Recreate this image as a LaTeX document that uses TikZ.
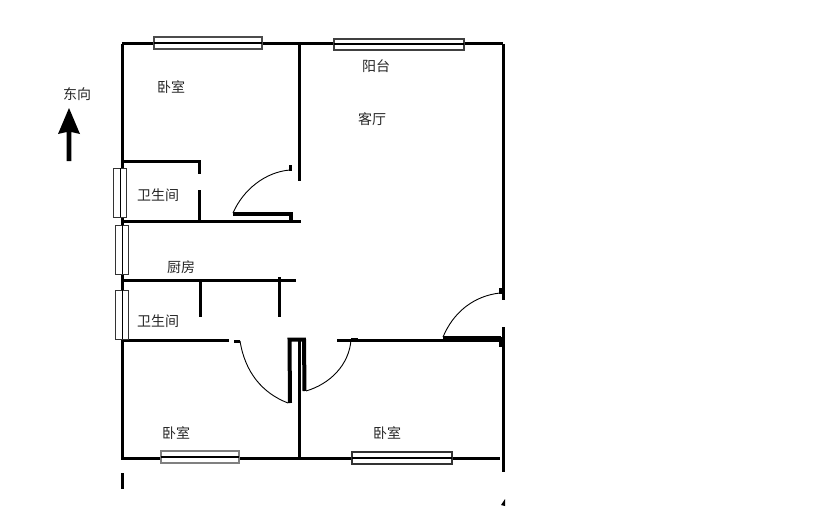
\documentclass[tikz,border=0pt]{standalone}
\usepackage{fontspec}
\setmainfont{Noto Sans CJK SC}
\tikzset{
  wall/.style={line width=3pt,black},
  leaf/.style={line width=4pt,black},
  swing/.style={line width=0.9pt,black},
  winframe/.style={draw=black!70,line width=1.3pt,fill=white},
  roomlabel/.style={font=\fontsize{14}{15}\selectfont,inner sep=0pt,black!85}
}
\begin{document}
\begin{tikzpicture}[line join=miter, x=1pt, y=-1pt]
  \useasboundingbox (0,0) rectangle (814,519);
  \draw[wall](122,44)--(503,44)(122,44)--(122,458)--(500,458)(122,473)--(122,489);
  \draw[wall](503,44)--(503,300)(503,327)--(503,472);
  \draw[wall](299.5,42)--(299.5,181)(122,221)--(301,221)(122,161)--(199,161)--(199,174)(199,190)--(199,221);
  \draw[wall](122,280)--(296,280)(200,280)--(200,317)(279,277)--(279,317);
  \draw[wall](122,340.5)--(229,340.5)(234,341)--(240,341)(337,340.5)--(503,340.5)(299.5,340)--(299.5,458);
  \draw[line width=3pt](351,339.5)--(358,339.5);
  % door leaves
  \draw[leaf](233,214)--(291,214)--(291,221);
  \draw[leaf](290,403)--(289.5,339.5)--(304,339.5)--(304.5,391);
  \draw[line width=6pt](443,339)--(501,339);
  \draw[line width=3pt](500.5,337)--(500.5,347)(500,288)--(500,294)(290,165)--(290,171);
  % door swings
  \draw[swing](233,213)..controls(243,190)and(265,172)..(290,170);
  \draw[swing](240,341)..controls(245,372)and(262,393)..(288,403);
  \draw[swing](306,391)..controls(330,384)and(349,365)..(351,340);
  \draw[swing](443,337)..controls(453,313)and(473,296)..(500,293);
  % windows
  \foreach \xa/\ya/\xb/\yb/\c in{154/37/262/49/70,334/39/464/50/75,161/451/239/463/50,352/452/452/464/80}
  {\draw[winframe,draw=black!\c](\xa,\ya)rectangle(\xb,\yb);
   \draw[line width=2pt]({\xa},{(\ya+\yb)/2})--({\xb},{(\ya+\yb)/2});}
  \foreach \xa/\ya/\xb/\yb/\xm in{113/168/126/217/120.5,115/225/128/274/122,115/290/128/339/122}
  {\draw[winframe,draw=black!80,line width=1pt](\xa,\ya)rectangle(\xb,\yb);
   \draw[line width=1pt](\xm,\ya)--(\xm,\yb);}
  % north arrow
  \fill(69,108)--(80,134)--(71.3,132)--(71.3,161)--(66.7,161)--(66.7,132)--(58,134)--cycle;
  \fill(501,505)--(505,499)--(505,506)--cycle;
  % labels
  \foreach \x/\y/\t/\n in{77/94/东向/east,171/87/卧室/bedA,376/66/阳台/balcony,372/119/客厅/living,158/195/卫生间/bathA,181/267/厨房/kitchen,158/321/卫生间/bathB,176/433/卧室/bedB,387/433/卧室/bedC}
  \node[roomlabel](\n)at(\x,\y){\t};
\end{tikzpicture}
\end{document}
